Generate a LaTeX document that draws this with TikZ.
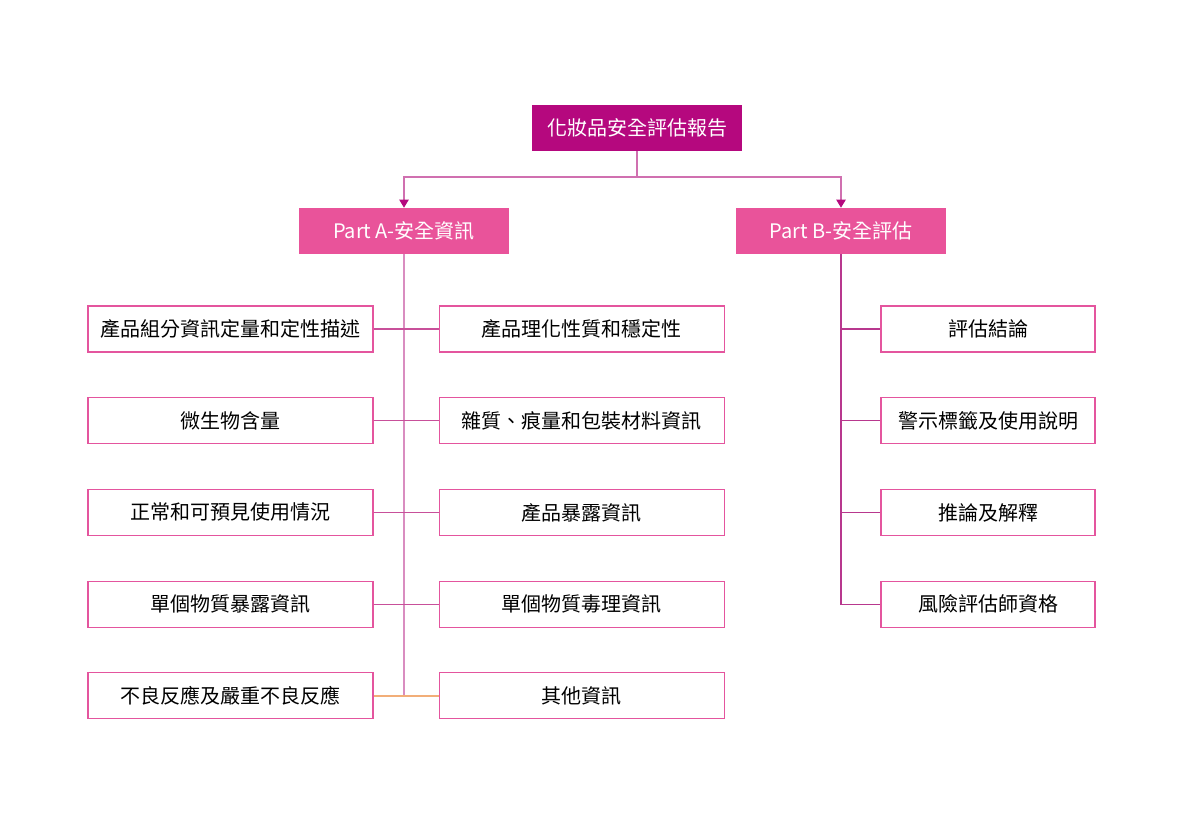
\documentclass[tikz,border=0pt]{standalone}
\usepackage{fontspec}
\setmainfont{Noto Sans CJK TC}
\usepackage{tikz}
\usetikzlibrary{positioning,arrows.meta}

\definecolor{rootfill}{HTML}{B5087E}
\definecolor{partfill}{HTML}{E9539A}
\definecolor{boxline}{HTML}{E4559E}
\definecolor{linkline}{HTML}{D070B0}
\definecolor{rowline}{HTML}{C8509A}
\definecolor{spineB}{HTML}{B8388E}
\definecolor{lastrow}{HTML}{F2AE78}

\begin{document}
\begin{tikzpicture}[
    x=0.75pt, y=-0.75pt,
    node distance = 33.5pt and 49pt,
    rootbox/.style = {rectangle, fill=rootfill, text=white, inner sep=0pt,
                      minimum width=157.5pt, minimum height=34.5pt, font=\fontsize{15}{18}\selectfont},
    partbox/.style = {rectangle, fill=partfill, text=white, inner sep=0pt,
                      minimum width=157.5pt, minimum height=34.5pt, font=\fontsize{15}{18}\selectfont},
    itembox/.style = {rectangle, draw=boxline, line width=0.8pt, fill=white, inner sep=0pt,
                      minimum width=213.75pt, minimum height=34.5pt, font=\fontsize{15}{18}\selectfont},
    evalbox/.style = {itembox, minimum width=160.5pt},
    link/.style = {draw=linkline, line width=0.8pt},
    >={Triangle[length=6pt,width=7pt,color=rootfill]}
]
\useasboundingbox (0,0) rectangle (1187,816);

% --- Top levels ---
\node[rootbox] (report) at (637,128) {化妝品安全評估報告};
\node[partbox] (partA) at (404,231) {Part A-安全資訊};
\node[partbox] (partB) at (841,231) {Part B-安全評估};
\coordinate (split) at (637,177);

% --- Part A, two columns ---
\node[itembox] (a1) at (230.5,329) {產品組分資訊定量和定性描述};
\node[itembox, below=of a1] (a2) {微生物含量};
\node[itembox, below=of a2] (a3) {正常和可預見使用情況};
\node[itembox, below=of a3] (a4) {單個物質暴露資訊};
\node[itembox, below=of a4] (a5) {不良反應及嚴重不良反應};
\node[itembox, right=of a1] (b1) {產品理化性質和穩定性};
\node[itembox, right=of a2] (b2) {雜質、痕量和包裝材料資訊};
\node[itembox, right=of a3] (b3) {產品暴露資訊};
\node[itembox, right=of a4] (b4) {單個物質毒理資訊};
\node[itembox, right=of a5] (b5) {其他資訊};

% --- Part B ---
\node[evalbox] (c1) at (988,329) {評估結論};
\node[evalbox, below=of c1] (c2) {警示標籤及使用說明};
\node[evalbox, below=of c2] (c3) {推論及解釋};
\node[evalbox, below=of c3] (c4) {風險評估師資格};

% --- Connectors ---
\draw[link] (report) -- (split);
\draw[link, ->] (split) -| (partA.north);
\draw[link, ->] (split) -| (partB.north);
\draw[link, draw=linkline!80] (partA.south) -- (partA.south |- a5.east);
\foreach \n in {1,...,4}
  \draw[link, draw=rowline] (a\n.east) -- (b\n.west);
\draw[link, draw=lastrow, line width=1.2pt] (a5.east) -- (b5.west);
\foreach \n in {1,...,4}
  \draw[link, draw=spineB] (partB.south) |- (c\n.west);

\end{tikzpicture}
\end{document}
